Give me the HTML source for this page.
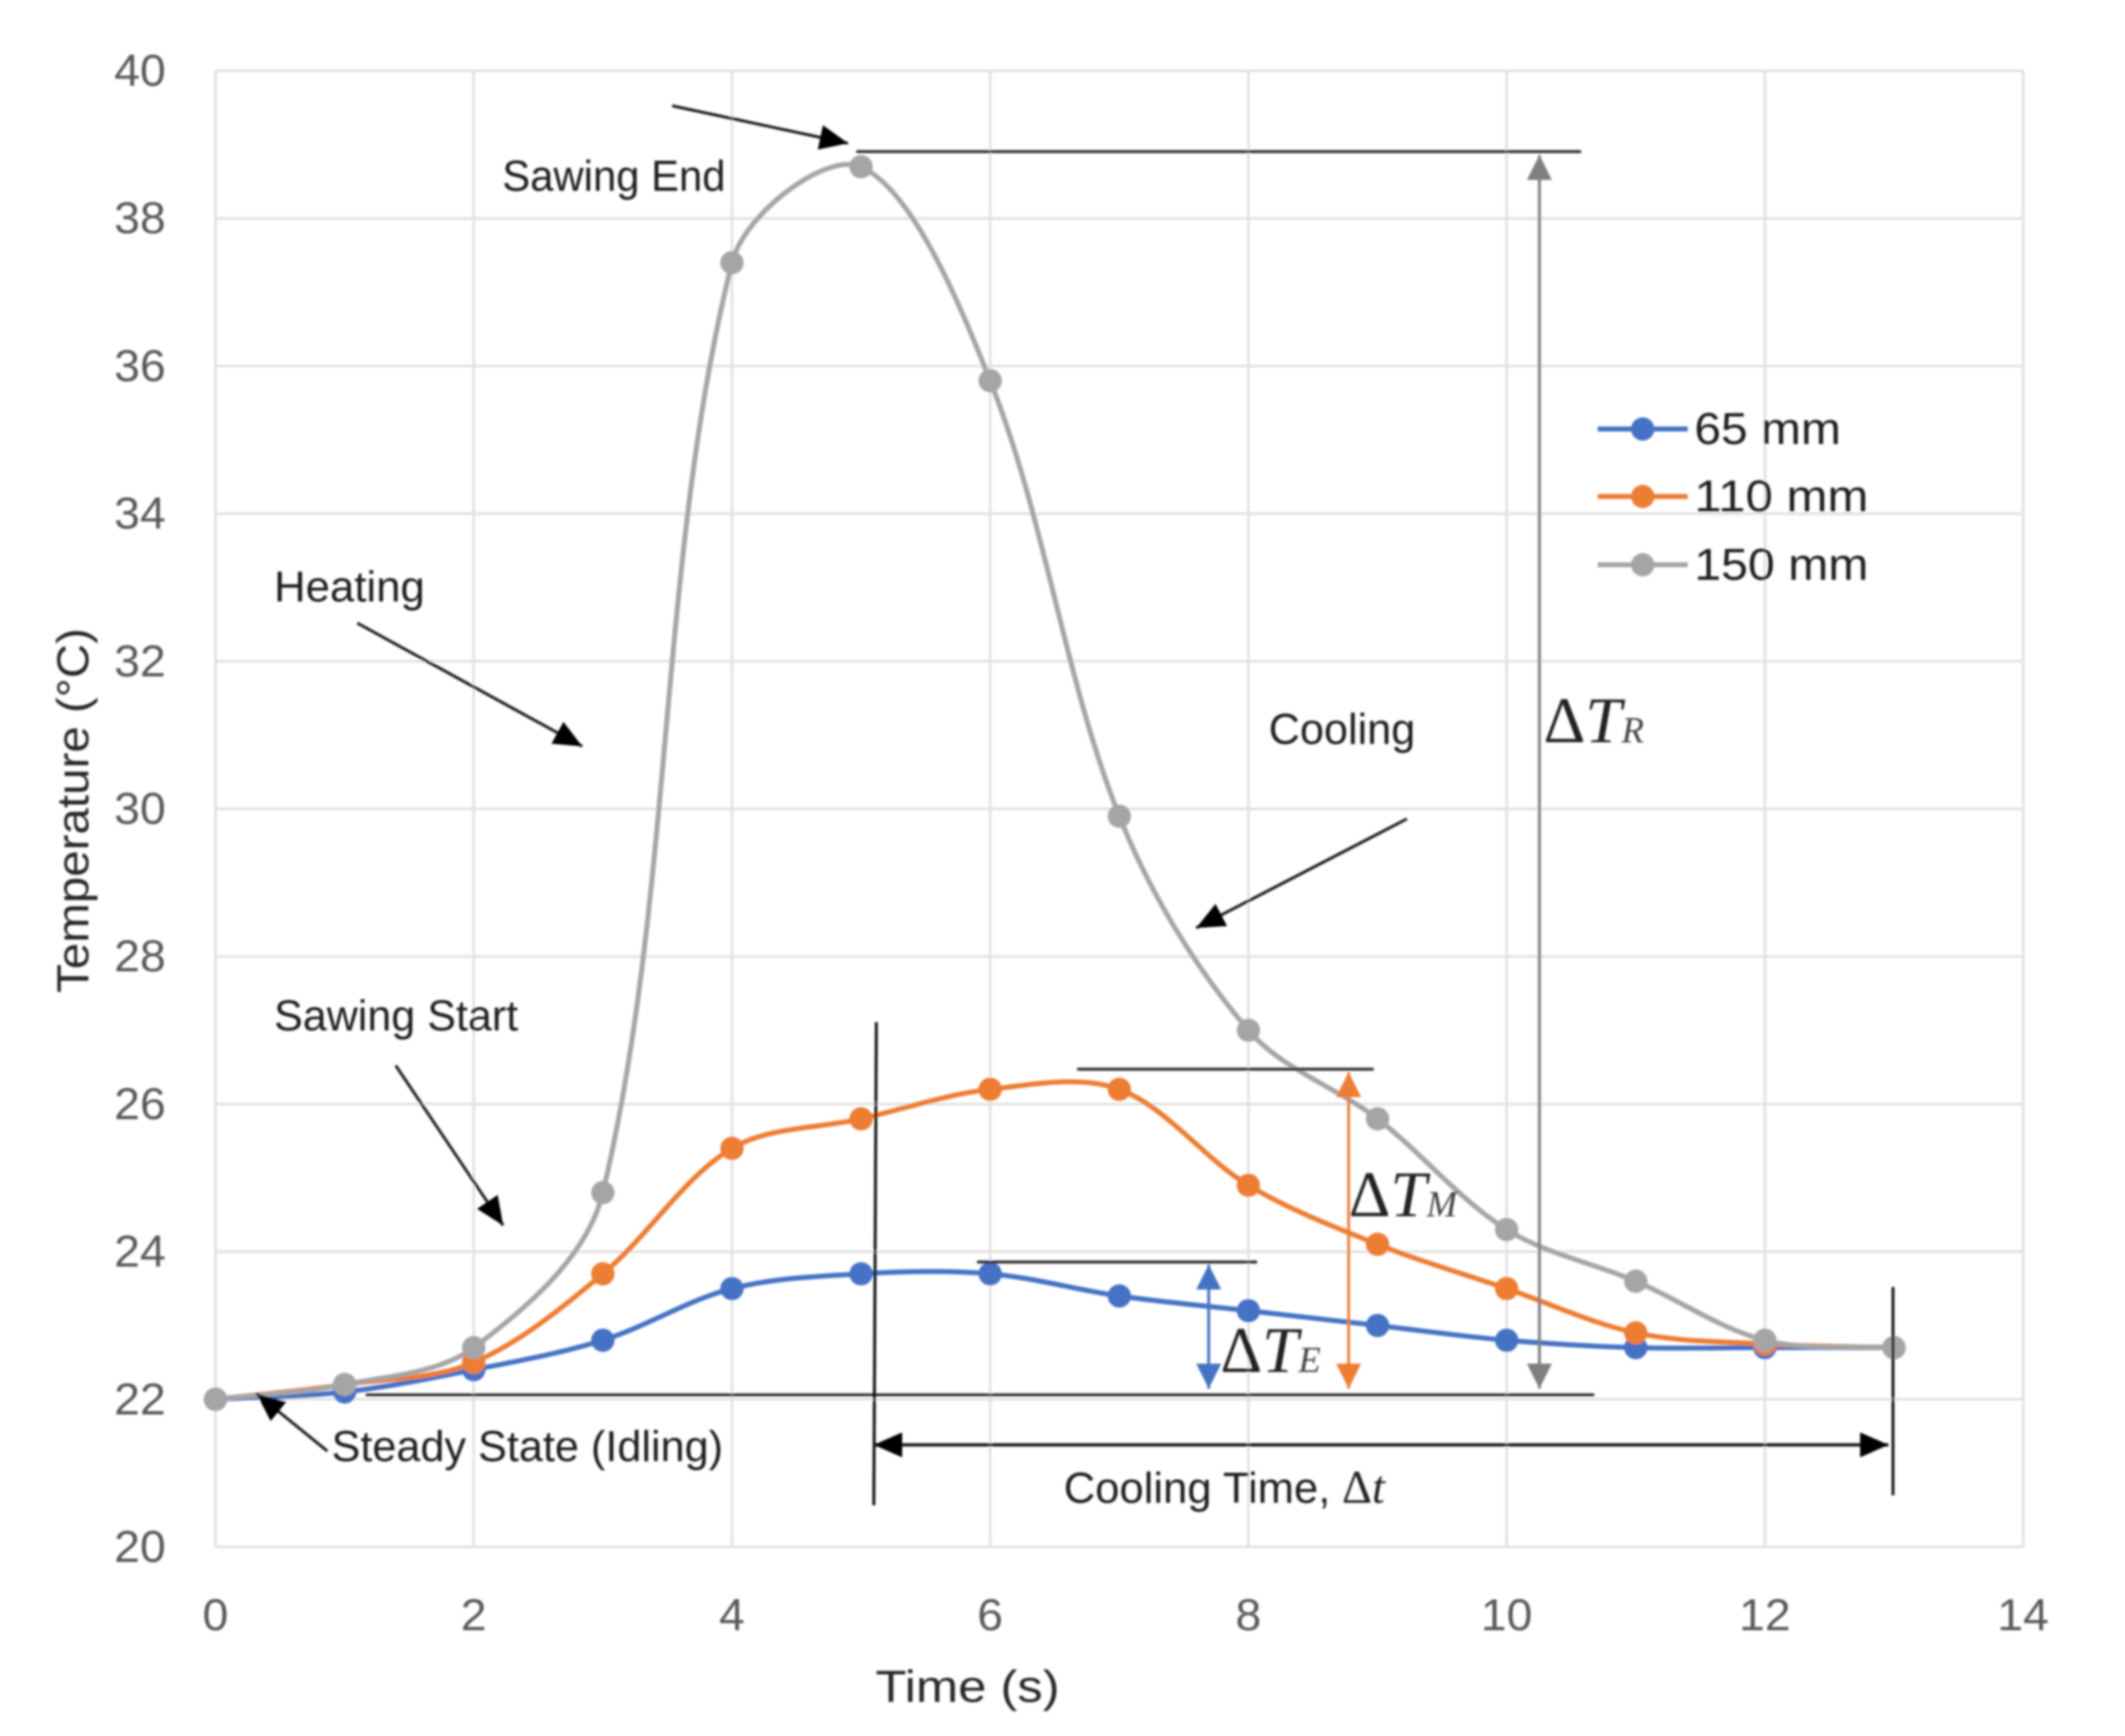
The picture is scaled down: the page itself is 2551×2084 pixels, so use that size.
<!DOCTYPE html>
<html lang="en">
<head>
<meta charset="utf-8">
<title>Temperature vs Time</title>
<style>
html,body{margin:0;padding:0;background:#fff;}
svg{display:block;}
.note{font-family:"Liberation Sans",sans-serif;font-size:52px;fill:#1c1c1c;}
.tick{font-family:"Liberation Sans",sans-serif;font-size:54px;fill:#595959;}
.title{font-family:"Liberation Sans",sans-serif;font-size:54px;fill:#262626;}
.leg{font-family:"Liberation Sans",sans-serif;font-size:54px;fill:#1c1c1c;}
.sym{font-family:"Liberation Serif",serif;font-size:78px;fill:#222;}
.sym .it{font-style:italic;}
.sym .sub{font-style:italic;font-size:44px;fill:#444;}
</style>
</head>
<body>
<svg id="chart" xmlns="http://www.w3.org/2000/svg" width="2551" height="2084" viewBox="0 0 2551 2084">
<defs>
<filter id="soft" x="0" y="0" width="100%" height="100%" filterUnits="userSpaceOnUse" primitiveUnits="userSpaceOnUse"><feGaussianBlur stdDeviation="1.4"/></filter>
<marker id="hk" markerUnits="userSpaceOnUse" markerWidth="40" markerHeight="32" refX="34" refY="15" orient="auto-start-reverse"><path d="M0 0L34 15L0 30Z" fill="#000"/></marker>
<marker id="hg" markerUnits="userSpaceOnUse" markerWidth="34" markerHeight="32" refX="30" refY="15" orient="auto-start-reverse"><path d="M0 0L30 15L0 30Z" fill="#7f7f7f"/></marker>
<marker id="ho" markerUnits="userSpaceOnUse" markerWidth="34" markerHeight="32" refX="30" refY="15" orient="auto-start-reverse"><path d="M0 0L30 15L0 30Z" fill="#ed7d31"/></marker>
<marker id="hb" markerUnits="userSpaceOnUse" markerWidth="34" markerHeight="32" refX="30" refY="15" orient="auto-start-reverse"><path d="M0 0L30 15L0 30Z" fill="#4472c4"/></marker>
</defs>
<rect width="2551" height="2084" fill="#fff"/>
<g filter="url(#soft)">
<g id="grid"></g>
<g id="ticks"></g>
<text class="title" x="1051" y="2043" textLength="221" lengthAdjust="spacingAndGlyphs">Time (s)</text>
<text class="title" transform="translate(106,1192) rotate(-90)" textLength="438" lengthAdjust="spacingAndGlyphs">Temperature (°C)</text>
<g id="series"></g>

<g fill="none" stroke="#2a2a2a" stroke-width="3.5">
<line x1="1028" y1="182" x2="1898" y2="182"/>
<line x1="439" y1="1674.5" x2="1914" y2="1674.5"/>
<line x1="1293" y1="1283.5" x2="1649" y2="1283.5"/>
<line x1="1173" y1="1515" x2="1509" y2="1515"/>
<line x1="1052" y1="1227" x2="1049" y2="1807" stroke="#111"/>
<line x1="2272.5" y1="1545" x2="2272.5" y2="1795" stroke="#111"/>
</g>
<g fill="none" stroke="#1c1c1c" stroke-width="3.5">
<line x1="807" y1="127" x2="1018" y2="172" marker-end="url(#hk)"/>
<line x1="429" y1="748" x2="699" y2="896" marker-end="url(#hk)"/>
<line x1="1689" y1="983" x2="1436" y2="1114" marker-end="url(#hk)"/>
<line x1="475" y1="1279" x2="604" y2="1471" marker-end="url(#hk)"/>
<line x1="393" y1="1742" x2="308" y2="1673" marker-end="url(#hk)"/>
<line x1="1049" y1="1734.5" x2="2267" y2="1734.5" marker-start="url(#hk)" marker-end="url(#hk)" stroke-width="4"/>
<line x1="1848" y1="186" x2="1848" y2="1667" stroke="#7f7f7f" marker-start="url(#hg)" marker-end="url(#hg)"/>
<line x1="1619" y1="1287" x2="1619" y2="1667" stroke="#ed7d31" marker-start="url(#ho)" marker-end="url(#ho)"/>
<line x1="1451" y1="1518" x2="1451" y2="1667" stroke="#4472c4" marker-start="url(#hb)" marker-end="url(#hb)"/>
</g>

<text class="note" x="603" y="229" textLength="268" lengthAdjust="spacingAndGlyphs">Sawing End</text>
<text class="note" x="329" y="722" textLength="181" lengthAdjust="spacingAndGlyphs">Heating</text>
<text class="note" x="329" y="1237" textLength="293" lengthAdjust="spacingAndGlyphs">Sawing Start</text>
<text class="note" x="398" y="1754" textLength="470" lengthAdjust="spacingAndGlyphs">Steady State (Idling)</text>
<text class="note" x="1523" y="893" textLength="176" lengthAdjust="spacingAndGlyphs">Cooling</text>
<text class="note" x="1277" y="1804" textLength="320" lengthAdjust="spacingAndGlyphs">Cooling Time,</text>
<text x="1611" y="1804" font-family="Liberation Serif, serif" font-size="56" fill="#222">Δ<tspan font-style="italic">t</tspan></text>

<text class="sym" x="1853" y="891">Δ<tspan class="it">T</tspan><tspan class="sub">R</tspan></text>
<text class="sym" x="1619" y="1460">Δ<tspan class="it">T</tspan><tspan class="sub">M</tspan></text>
<text class="sym" x="1465" y="1647">Δ<tspan class="it">T</tspan><tspan class="sub">E</tspan></text>

<g id="legend"></g>
</g>
</svg>
<script>
var times = [0,1,2,3,4,5,6,7,8,9,10,11,12,13];
var values65 = [22,22.1,22.4,22.8,23.5,23.7,23.7,23.4,23.2,23,22.8,22.7,22.7,22.7];
var values110 = [22,22.2,22.5,23.7,25.4,25.8,26.2,26.2,24.9,24.1,23.5,22.9,22.75,22.7];
var values150 = [22,22.2,22.7,24.8,37.4,38.7,35.8,29.9,27,25.8,24.3,23.6,22.8,22.7];
var seriesNames = ['65 mm','110 mm','150 mm'];
var xTickLabels = [0,2,4,6,8,10,12,14];
var yTickLabels = [20,22,24,26,28,30,32,34,36,38,40];

var NS = 'http://www.w3.org/2000/svg';
var PL = 258.7, PR = 2428.7, PT = 85, PB = 1857;
function sx(v){ return PL + (v - 0) / (14 - 0) * (PR - PL); }
function sy(v){ return PB - (v - 20) / (40 - 20) * (PB - PT); }
function mk(tag, parent){
  var e = document.createElementNS(NS, tag);
  parent.appendChild(e);
  return e;
}
function tickWidth(t){ return String(t).length * 31; }
var grid = document.getElementById('grid');
var ticks = document.getElementById('ticks');

xTickLabels.forEach(function(t){
  var l = mk('line', grid);
  
  
  l.setAttribute('x1', sx(t)); l.setAttribute('x2', sx(t));
  l.setAttribute('y1', PT); l.setAttribute('y2', PB);
  l.setAttribute('stroke', '#e0e0e0'); l.setAttribute('stroke-width', '3');
  var s = mk('text', ticks);
  
  
  s.setAttribute('class', 'tick');
  s.setAttribute('x', sx(t)); s.setAttribute('y', 1957);
  s.setAttribute('text-anchor', 'middle');
  s.setAttribute('textLength', tickWidth(t));
  s.setAttribute('lengthAdjust', 'spacingAndGlyphs');
  s.textContent = t;
});
yTickLabels.forEach(function(t){
  var l = mk('line', grid);
  
  
  l.setAttribute('x1', PL); l.setAttribute('x2', PR);
  l.setAttribute('y1', sy(t)); l.setAttribute('y2', sy(t));
  l.setAttribute('stroke', '#e0e0e0'); l.setAttribute('stroke-width', '3');
  var s = mk('text', ticks);
  
  
  s.setAttribute('class', 'tick');
  s.setAttribute('x', 199); s.setAttribute('y', sy(t) + 18);
  s.setAttribute('text-anchor', 'end');
  s.setAttribute('textLength', tickWidth(t));
  s.setAttribute('lengthAdjust', 'spacingAndGlyphs');
  s.textContent = t;
});

function dist(a, b){ return Math.hypot(b[0] - a[0], b[1] - a[1]) || 1; }
function smoothPath(xs, ys){
  var p = xs.map(function(x, i){ return [sx(x), sy(ys[i])]; });
  var d = 'M' + p[0][0] + ' ' + p[0][1];
  for (var i = 0; i < p.length - 1; i++){
    var a = p[Math.max(i - 1, 0)], b = p[i], c = p[i + 1], e = p[Math.min(i + 2, p.length - 1)];
    var w1 = dist(b, c) / (dist(a, b) + dist(b, c)) / 3;
    var w2 = dist(b, c) / (dist(b, c) + dist(c, e)) / 3;
    var c1x = b[0] + (c[0] - a[0]) * w1, c1y = b[1] + (c[1] - a[1]) * w1;
    var c2x = c[0] - (e[0] - b[0]) * w2, c2y = c[1] - (e[1] - b[1]) * w2;
    d += 'C' + c1x + ' ' + c1y + ' ' + c2x + ' ' + c2y + ' ' + c[0] + ' ' + c[1];
  }
  return d;
}

var seriesGroup = document.getElementById('series');
var legendGroup = document.getElementById('legend');
var allValues = [values65, values110, values150];
var colors = ['#4472c4', '#ed7d31', '#a5a5a5'];
var legendY = [515, 596, 678];

allValues.forEach(function(vals, k){
  var g = mk('g', seriesGroup);
  
  
  var path = mk('path', g);
  
  
  path.setAttribute('d', smoothPath(times, vals));
  path.setAttribute('fill', 'none');
  path.setAttribute('stroke', colors[k]);
  path.setAttribute('stroke-width', '6');
  path.setAttribute('stroke-linecap', 'round');
  vals.forEach(function(v, i){
    var c = mk('circle', g);
    
    
    c.setAttribute('cx', sx(times[i]));
    c.setAttribute('cy', sy(v));
    c.setAttribute('r', '14');
    c.setAttribute('fill', colors[k]);
  });

  var le = mk('g', legendGroup);
  
  
  var ll = mk('line', le);
  
  
  ll.setAttribute('x1', 1918); ll.setAttribute('x2', 2026);
  ll.setAttribute('y1', legendY[k]); ll.setAttribute('y2', legendY[k]);
  ll.setAttribute('stroke', colors[k]); ll.setAttribute('stroke-width', '6');
  var lc = mk('circle', le);
  
  
  lc.setAttribute('cx', 1972); lc.setAttribute('cy', legendY[k]); lc.setAttribute('r', '14');
  lc.setAttribute('fill', colors[k]);
  var lt = mk('text', le);
  
  
  lt.setAttribute('class', 'leg');
  lt.setAttribute('x', 2034); lt.setAttribute('y', legendY[k] + 18);
  lt.setAttribute('textLength', k === 0 ? 176 : 209);
  lt.setAttribute('lengthAdjust', 'spacingAndGlyphs');
  lt.textContent = seriesNames[k];
});
</script>
</body>
</html>
